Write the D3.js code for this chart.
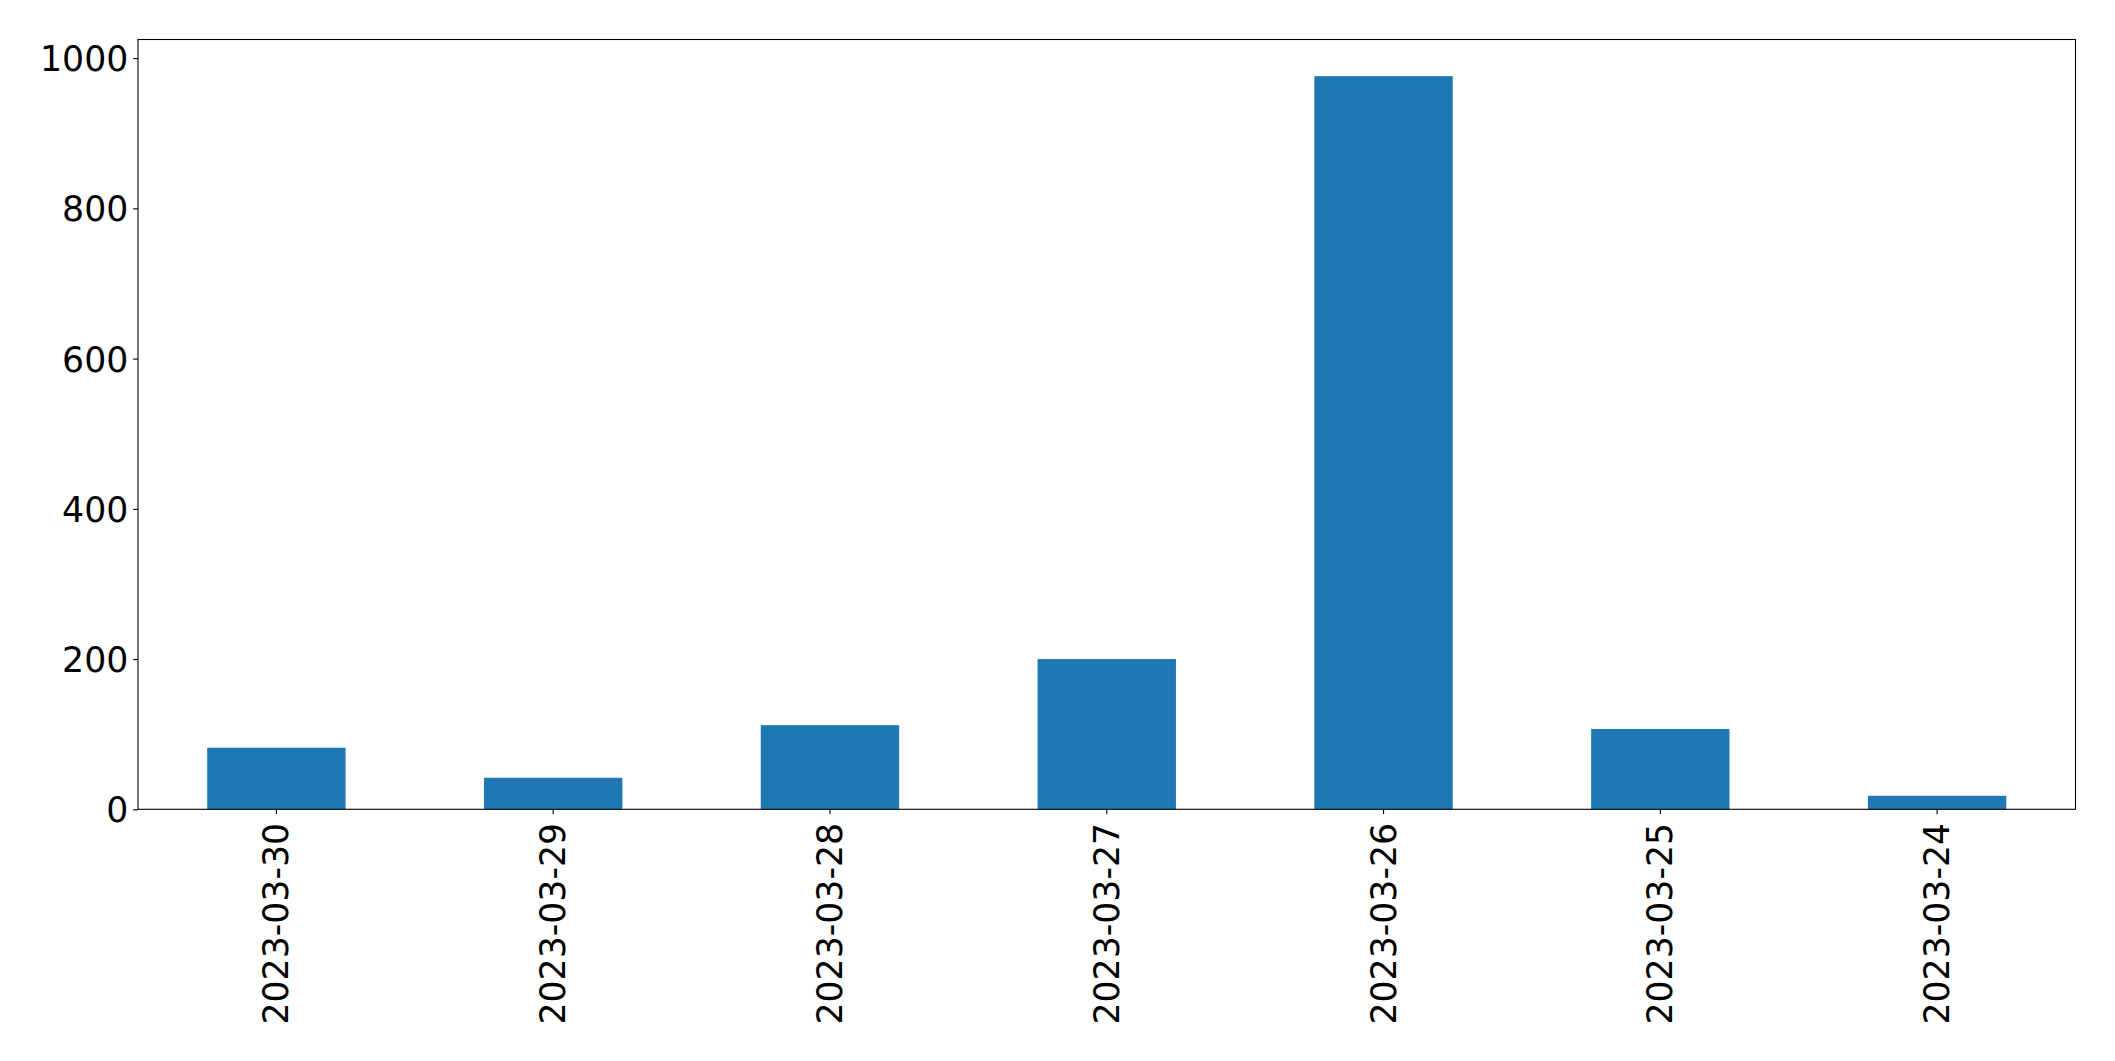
<!DOCTYPE html>
<html>
<head>
<meta charset="utf-8">
<script src="https://cdn.jsdelivr.net/npm/d3@7"></script>
<style>
  body { margin: 0; background: #fff; }
  svg { display: block; }
  .tick text { font-family: "DejaVu Sans", sans-serif; font-size: 34.7px; fill: #000; }
</style>
</head>
<body>
<svg id="chart" width="2115" height="1061"></svg>
<script>
const categories = ['2023-03-30', '2023-03-29', '2023-03-28', '2023-03-27', '2023-03-26', '2023-03-25', '2023-03-24'];
const counts = [82, 42, 112, 200, 976, 107, 18];
const yTicks = [0, 200, 400, 600, 800, 1000];

const plotLeft = 138;
const plotRight = 2075.5;
const plotTop = 39.5;
const plotBottom = 809.3;
const tickLen = 4.86;

const data = categories.map((c, i) => ({ date: c, value: counts[i] }));

const svg = d3.select('#chart');

const xScale = d3.scaleBand()
  .domain(categories)
  .range([plotLeft, plotRight])
  .paddingInner(0.5)
  .paddingOuter(0.25);

const yScale = d3.scaleLinear()
  .domain([0, d3.max(counts) * 1.05])
  .range([plotBottom, plotTop]);

svg.selectAll('rect.bar')
  .data(data)
  .enter()
  .append('rect')
  .attr('class', 'bar')
  .attr('x', d => xScale(d.date))
  .attr('y', d => yScale(d.value))
  .attr('width', xScale.bandwidth())
  .attr('height', d => plotBottom - yScale(d.value))
  .attr('fill', '#1f77b4');

const yAxis = d3.axisLeft(yScale)
  .tickValues(yTicks)
  .tickFormat(d3.format('d'))
  .tickSize(tickLen)
  .tickSizeOuter(0)
  .tickPadding(4.86);

const gy = svg.append('g')
  .attr('transform', 'translate(' + plotLeft + ',0)')
  .call(yAxis);
gy.select('.domain').remove();
gy.selectAll('.tick line').attr('stroke', '#000').attr('stroke-width', 1.1);
gy.selectAll('.tick text').attr('dy', '0.36em');

const xAxis = d3.axisBottom(xScale)
  .tickSize(tickLen)
  .tickSizeOuter(0);

const gx = svg.append('g')
  .attr('transform', 'translate(0,' + plotBottom + ')')
  .call(xAxis);
gx.select('.domain').remove();
gx.selectAll('.tick line').attr('stroke', '#000').attr('stroke-width', 1.1);
gx.selectAll('.tick text')
  .attr('x', 0)
  .attr('y', 0)
  .attr('dy', null)
  .attr('text-anchor', 'end')
  .attr('dominant-baseline', 'central')
  .attr('transform', 'translate(0,' + (tickLen + 8.8) + ') rotate(-90)');

// axes frame
svg.append('rect')
  .attr('x', plotLeft)
  .attr('y', plotTop)
  .attr('width', plotRight - plotLeft)
  .attr('height', plotBottom - plotTop)
  .attr('fill', 'none')
  .attr('stroke', '#000')
  .attr('stroke-width', 1.1);
</script>
</body>
</html>
